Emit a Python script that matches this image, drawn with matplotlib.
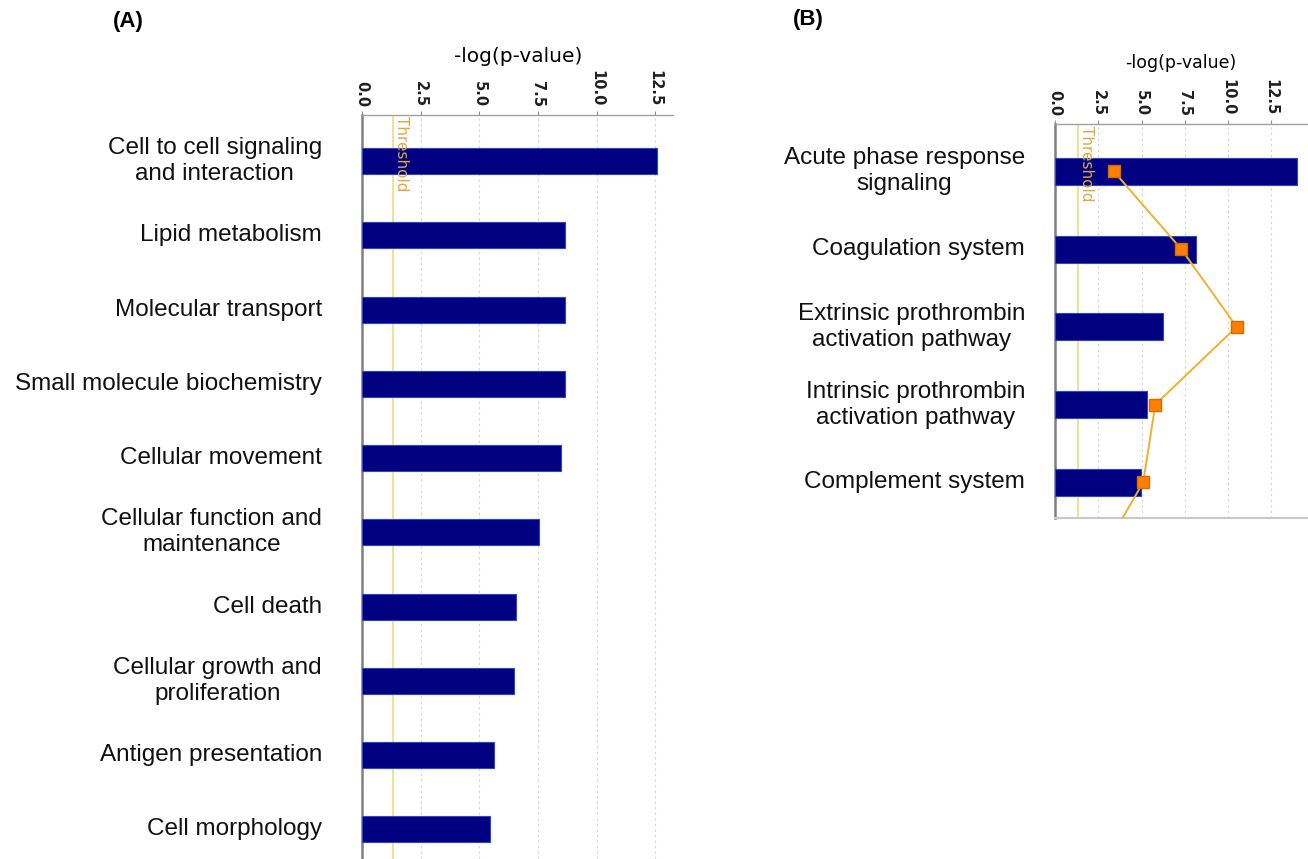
import matplotlib
matplotlib.use("Agg")
import matplotlib.pyplot as plt
import numpy as np

plt.rcParams['font.family'] = ['Liberation Sans', 'DejaVu Sans']

# Panel A: top biological functions
functions_a = [
    "Cell to cell signaling\nand interaction",
    "Lipid metabolism",
    "Molecular transport",
    "Small molecule biochemistry",
    "Cellular movement",
    "Cellular function and\nmaintenance",
    "Cell death",
    "Cellular growth and\nproliferation",
    "Antigen presentation",
    "Cell morphology",
]
logp_a = [12.6, 8.65, 8.65, 8.65, 8.5, 7.55, 6.57, 6.5, 5.65, 5.45]

# Panel B: top canonical pathways
pathways_b = [
    "Acute phase response\nsignaling",
    "Coagulation system",
    "Extrinsic prothrombin\nactivation pathway",
    "Intrinsic prothrombin\nactivation pathway",
    "Complement system",
]
logp_b = [14.0, 8.15, 6.25, 5.3, 4.95]
ratio_b = [3.4, 7.3, 10.5, 5.8, 5.1, 2.5]

threshold = 1.33
ticks = [0.0, 2.5, 5.0, 7.5, 10.0, 12.5]
tick_labels = ["0.0", "2.5", "5.0", "7.5", "10.0", "12.5"]

BAR = "#000080"
BAR_EDGE = "#2848c8"
THRESH = "#f0dc80"
THRESH_TXT = "#e0a840"
LINE = "#f0b030"
MARK = "#ff8000"

W, H = 1308, 859
fig = plt.figure(figsize=(W / 100, H / 100), dpi=100)


def px_axes(left, top, right, bottom):
    return fig.add_axes([left / W, 1 - bottom / H, (right - left) / W, (bottom - top) / H])


def style_axis(ax, xmax, labels, label_x, title_xy, title_size):
    ax.set_xlim(0, xmax)
    ax.xaxis.tick_top()
    ax.set_xticks(ticks)
    ax.set_xticklabels(tick_labels, rotation=-90, fontsize=10.5, fontweight='bold',
                       family='DejaVu Sans', color='#202020')
    ax.tick_params(axis='x', length=3, width=0.8, color='#909090', pad=3)
    ax.set_yticks([])
    for s in ('right', 'bottom'):
        ax.spines[s].set_visible(False)
    ax.spines['left'].set_color('#808080')
    ax.spines['left'].set_linewidth(1.8)
    ax.spines['top'].set_color('#a0a0a0')
    ax.spines['top'].set_linewidth(1.0)
    for t in ticks[1:]:
        ax.axvline(t, color='#d4d4d4', lw=0.8, ls=(0, (2, 3)), zorder=0)
    ax.axvline(threshold, color=THRESH, lw=1.2, zorder=1)
    ax.text(threshold + 0.05, ax.get_ylim()[1] + 0.02, "Threshold", rotation=-90,
            ha='left', va='top', fontsize=11, color=THRESH_TXT,
            family='DejaVu Sans', zorder=6)
    fig.text(title_xy[0] / W, 1 - title_xy[1] / H, "-log(p-value)",
             fontsize=title_size, family='DejaVu Sans', ha='center', va='center')
    for i, lab in enumerate(labels):
        ax.annotate(lab, xy=(0, i), xycoords=('axes fraction', 'data'),
                    xytext=(label_x, 0), textcoords='offset pixels',
                    ha='right', va='center', multialignment='center',
                    fontsize=17.5, linespacing=1.24, color='#111111')


# ---- Panel A ----
axA = px_axes(362, 115, 673, 859)
yA = np.arange(len(functions_a))
axA.set_ylim(9.40, -0.62)
axA.barh(yA, logp_a, height=0.35, color=BAR, edgecolor=BAR_EDGE, lw=0.8, zorder=3)
style_axis(axA, (673 - 362) / 23.45, functions_a, -40, (518, 57), 14.5)
fig.text(128 / W, 1 - 22 / H, "(A)", fontsize=16, fontweight='bold',
         ha='center', va='center')

# ---- Panel B ----
axB = px_axes(1055, 124, 1308, 518)
yB = np.arange(len(pathways_b))
axB.set_ylim(4.46, -0.61)
axB.barh(yB, logp_b, height=0.35, color=BAR, edgecolor=BAR_EDGE, lw=0.8, zorder=3)
axB.plot(ratio_b, np.arange(len(ratio_b)), color=LINE, lw=1.4, marker='s',
         ms=9, mfc=MARK, mec='#d86a00', zorder=4, clip_on=True)
style_axis(axB, (1308 - 1055) / 17.3, pathways_b, -30, (1181, 63), 12.5)
axB.spines['bottom'].set_visible(True)
axB.spines['bottom'].set_color('#c8c8c8')
axB.spines['bottom'].set_linewidth(1.5)
fig.text(808 / W, 1 - 20 / H, "(B)", fontsize=16, fontweight='bold',
         ha='center', va='center')

fig.savefig("out.png", dpi=100, facecolor='white')
